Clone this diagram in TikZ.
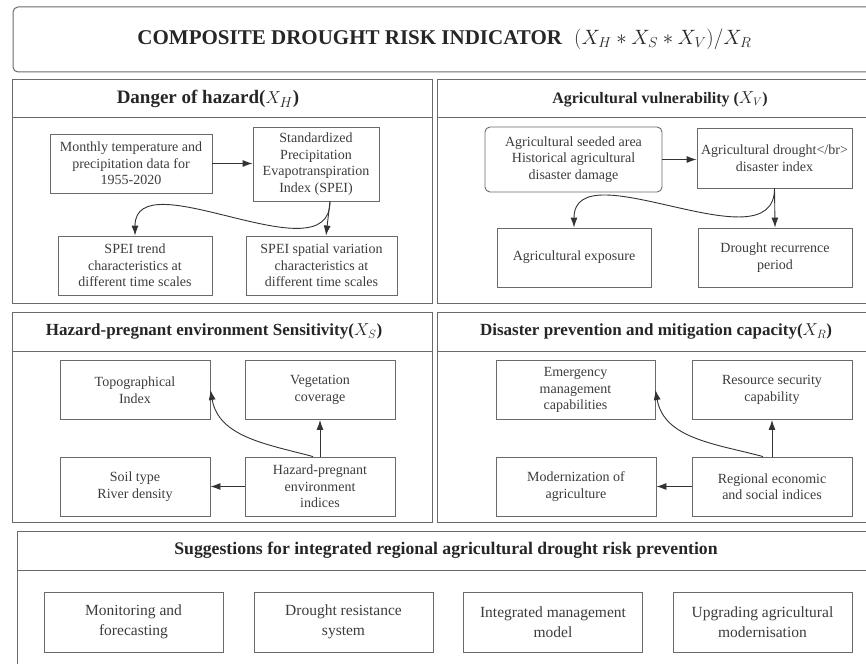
\documentclass[tikz,border=0pt]{standalone}
\usepackage{fontspec}
\setmainfont{Liberation Serif}
\usetikzlibrary{arrows.meta}

\definecolor{linegray}{HTML}{6A6A6A}
\definecolor{textgray}{HTML}{3C3C3C}
\definecolor{arrgray}{HTML}{333333}

\begin{document}
\begin{tikzpicture}[x=1pt, y=-1pt,
        box/.style={draw=linegray, line width=0.9pt, text=textgray, font=\fontsize{14}{16.5}\selectfont, align=center, inner sep=0pt, minimum width=150pt, minimum height=59pt},
        sugg/.style={box, font=\fontsize{15.5}{19.5}\selectfont, minimum width=179pt, minimum height=60pt},
        panel/.style={draw=linegray, line width=1pt},
        head/.style={font=\bfseries\fontsize{17}{19}\selectfont, text=black!85},
        arr/.style={-{Latex[length=10pt,width=7pt]}, line width=0.9pt, draw=arrgray}]

    \useasboundingbox (0,0) rectangle (866,663);

    % composite indicator
    \node[draw=linegray, line width=1pt, rounded corners=5pt, minimum width=863pt, minimum height=65pt, text=black!85] (cdri) at (444.5,39.5)
        {\fontsize{21}{23}\selectfont\textbf{COMPOSITE DROUGHT RISK INDICATOR}\hspace{12pt}{\fontsize{22.3}{24}\selectfont$(X_H * X_S * X_V)/X_R$}};

    % panels
    \draw[panel] (12,80) rectangle (432,303);
    \draw[panel] (12,118) -- (432,118);
    \node[head, font=\bfseries\fontsize{19}{21}\selectfont] (hzd) at (208,99) {Danger of hazard($X_H$)};

    \draw[panel] (437,80) rectangle (890,303);
    \draw[panel] (437,118) -- (890,118);
    \node[head, font=\bfseries\fontsize{16}{18}\selectfont] (vul) at (660,99) {Agricultural vulnerability ($X_V$)};

    \draw[panel] (12,312) rectangle (432,522);
    \draw[panel] (12,351) -- (432,351);
    \node[head] (sens) at (214,331.5) {Hazard-pregnant environment Sensitivity($X_S$)};

    \draw[panel] (437,312) rectangle (890,522);
    \draw[panel] (437,351) -- (890,351);
    \node[head] (cap) at (656,331.5) {Disaster prevention and mitigation capacity($X_R$)};

    \draw[panel] (17,531) rectangle (890,690);
    \draw[panel] (17,570) -- (890,570);
    \node[head, font=\bfseries\fontsize{17.7}{19}\selectfont] (sug) at (446,550.5) {Suggestions for integrated regional agricultural drought risk prevention};

    % danger of hazard
    \node[box, minimum width=162pt] (mon) at (131,163.5) {Monthly temperature and\\precipitation data for\\1955-2020};
    \node[box, minimum width=126pt, minimum height=74pt] (spei) at (316,164) {Standardized\\Precipitation\\Evapotranspiration\\Index (SPEI)};
    \node[box, minimum width=154pt] (trend) at (135,265.5) {SPEI trend\\characteristics at\\different time scales};
    \node[box, minimum width=151pt] (spat) at (321.5,265.5) {SPEI spatial variation\\characteristics at\\different time scales};

    \draw[arr] (mon.east) -- (spei.west |- mon.east);
    \draw[arr] ([xshift=14pt]spei.south) to[out=-90, in=90] (trend.north);
    \draw[arr] ([xshift=14pt]spei.south) -- ([xshift=4.5pt]spat.north);

    % agricultural vulnerability
    \node[box, rounded corners=5pt, minimum width=177pt, minimum height=65pt] (seed) at (573.5,159.5) {Agricultural seeded area\\Historical agricultural\\disaster damage};
    \node[box, minimum width=155pt, minimum height=60pt] (adi) at (774.5,158) {Agricultural drought</br>\\disaster index};
    \node[box, minimum width=154pt] (expo) at (574,257.5) {Agricultural exposure};
    \node[box, minimum width=154pt] (recur) at (775,257.5) {Drought recurrence\\period};

    \draw[arr] (seed.east) -- (adi.west |- seed.east);
    \draw[arr] (adi.south) to[out=-90, in=90] (expo.north);
    \draw[arr] (adi.south) -- (recur.north);

    % sensitivity
    \node[box] (topo) at (135,390) {Topographical\\Index};
    \node[box] (veg)  at (320,390) {Vegetation\\coverage};
    \node[box] (soil) at (135,486.5) {Soil type\\River density};
    \node[box] (haz)  at (320,486.5) {Hazard-pregnant\\environment\\indices};

    \draw[arr] (haz.north) -- (veg.south);
    \draw[arr] ([xshift=-7pt]haz.north) to[out=165, in=-80] (topo.east);
    \draw[arr] (haz.west) -- (soil.east);

    % capacity
    \node[box, minimum width=159pt] (emer) at (575.5,390) {Emergency\\management\\capabilities};
    \node[box, minimum width=160pt] (res)  at (772,390) {Resource security\\capability};
    \node[box, minimum width=160pt] (mod)  at (576,486.5) {Modernization of\\agriculture};
    \node[box, minimum width=160pt] (reg)  at (772,486.5) {Regional economic\\and social indices};

    \draw[arr] (reg.north) -- (res.south);
    \draw[arr] ([xshift=-9pt]reg.north) to[out=165, in=-80] (emer.east);
    \draw[arr] (reg.west) -- (mod.east);

    % suggestions
    \node[sugg] (moni) at (133.5,622) {Monitoring and\\forecasting};
    \node[sugg] (resi) at (343.5,622) {Drought resistance\\system};
    \node[sugg] (mgmt) at (553,622) {Integrated management\\model};
    \node[sugg] (upgr) at (762.5,622) {Upgrading agricultural\\modernisation};

\end{tikzpicture}
\end{document}
